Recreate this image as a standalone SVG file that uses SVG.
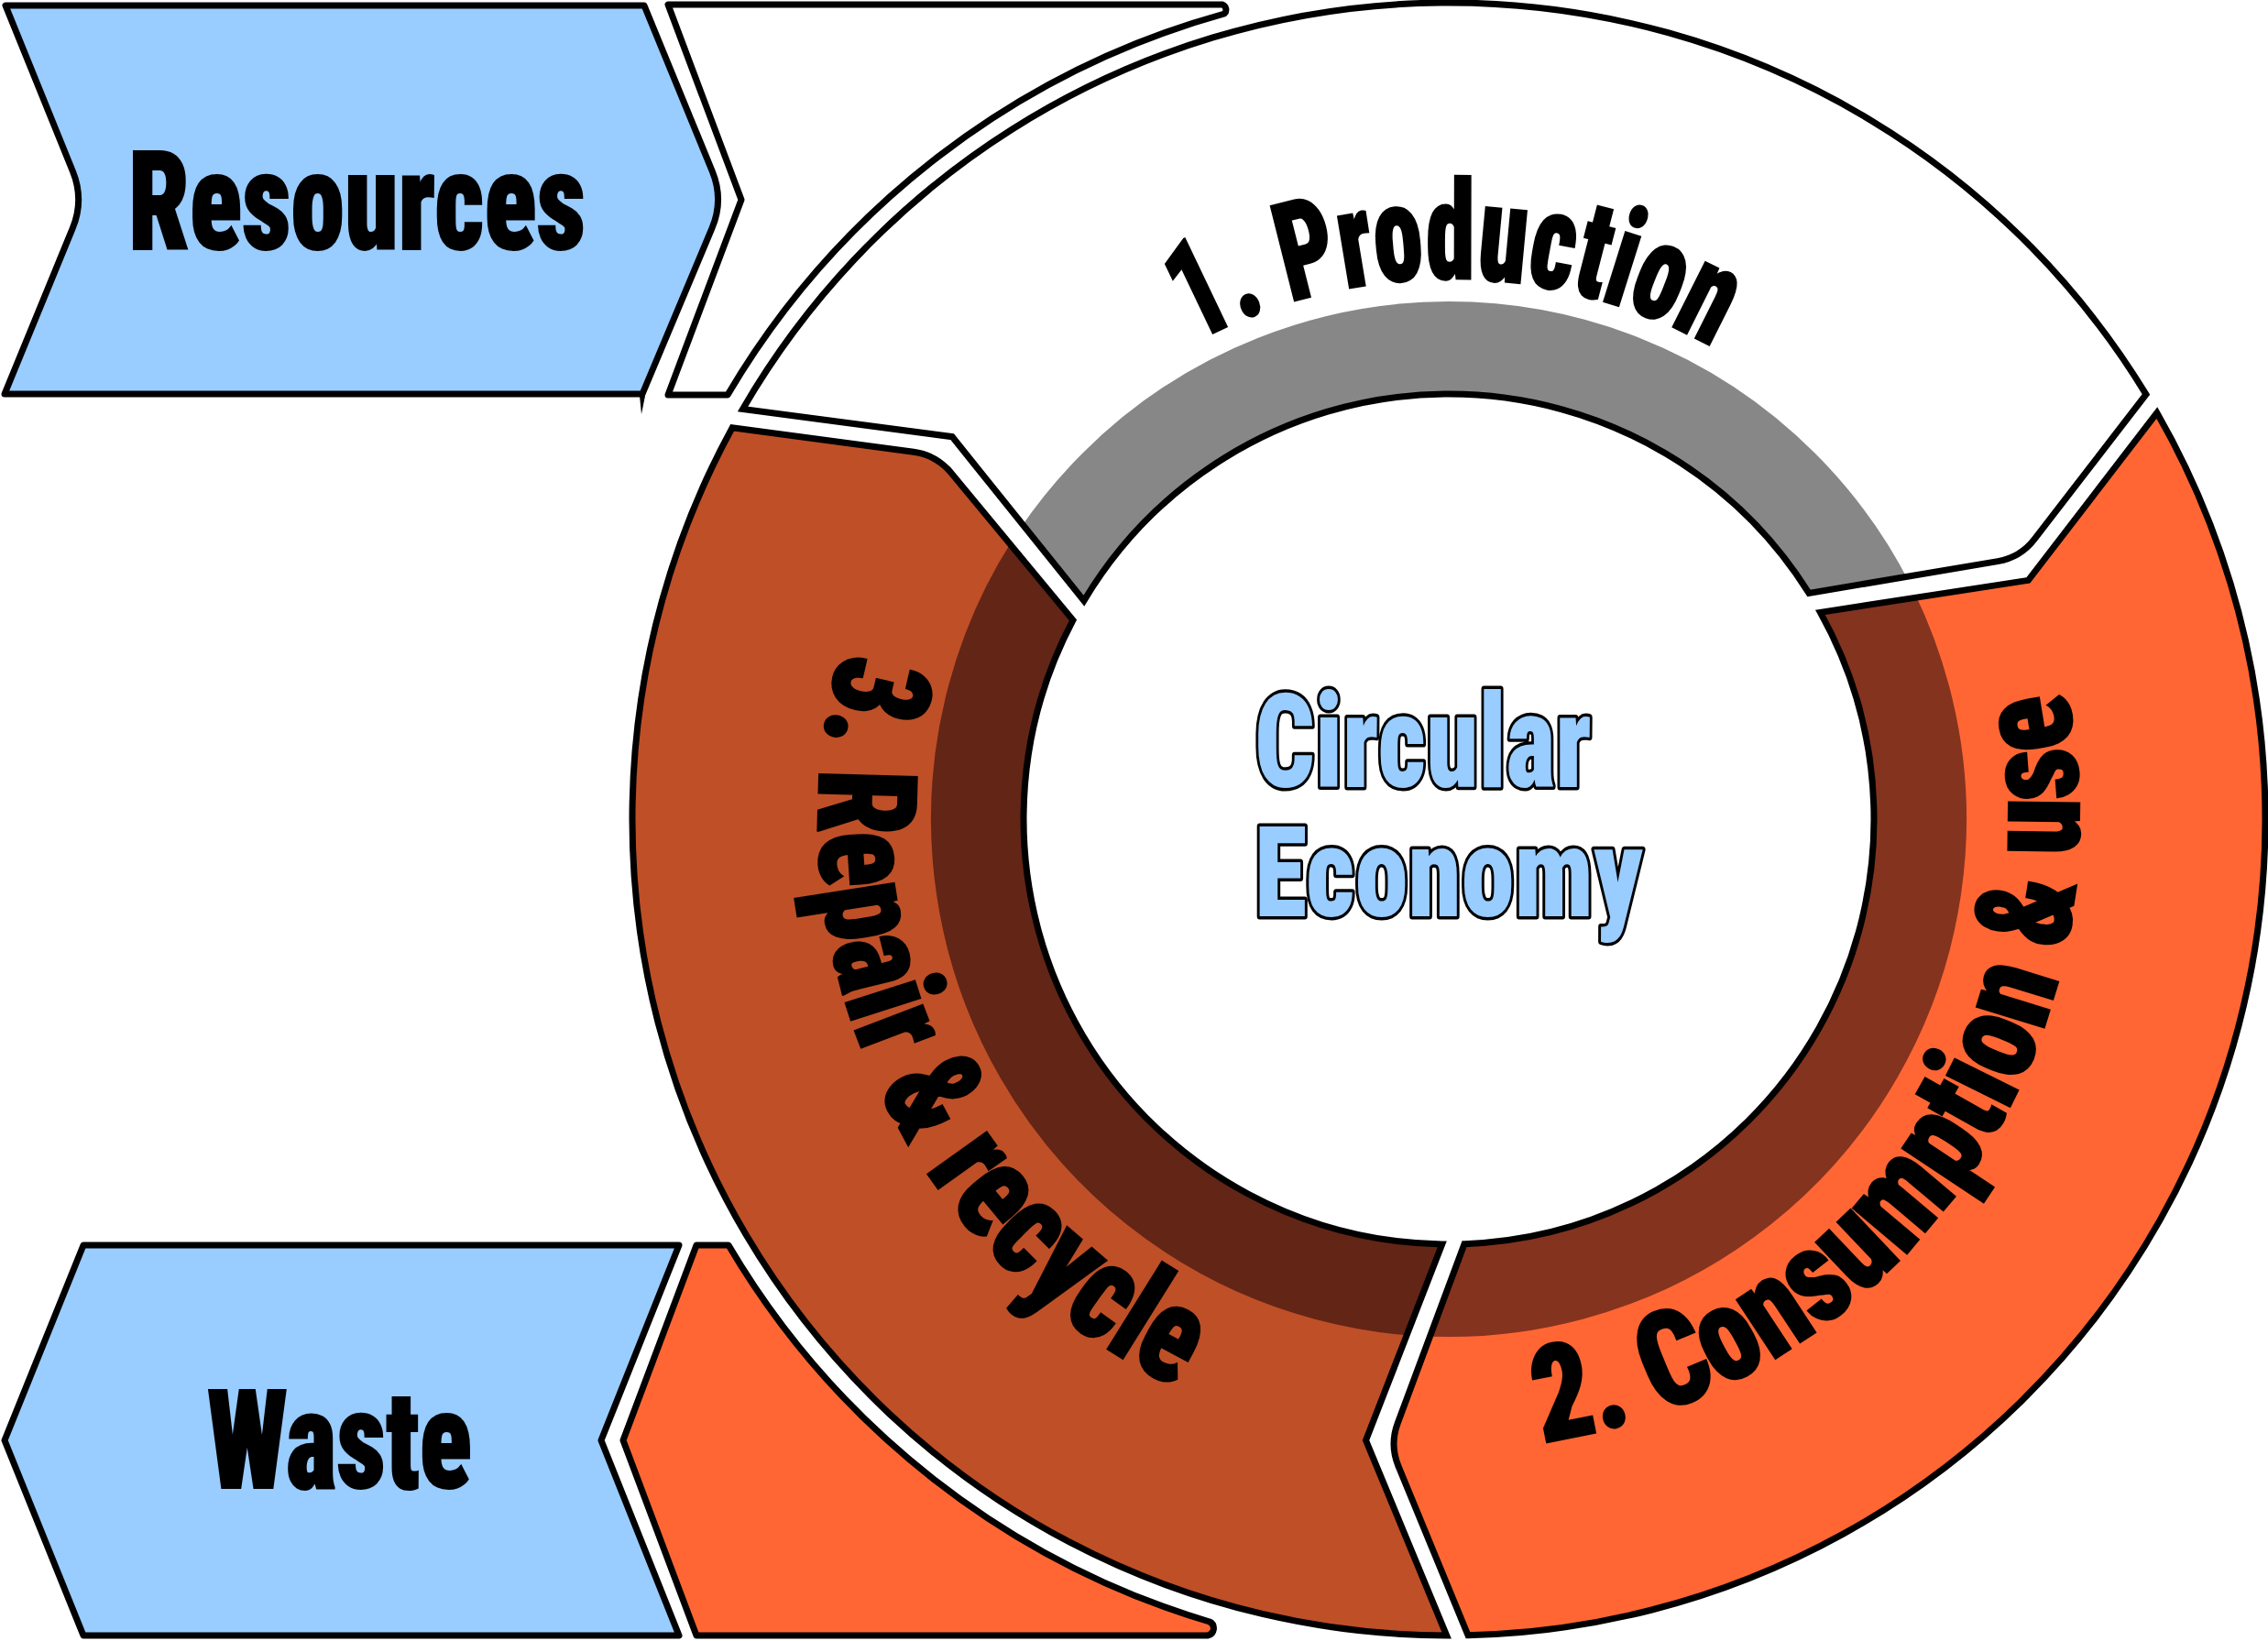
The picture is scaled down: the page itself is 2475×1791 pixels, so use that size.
<svg xmlns="http://www.w3.org/2000/svg" width="2475" height="1791" viewBox="0 0 2475 1791">
<style>
.ol{fill:none;stroke:#000;stroke-width:7;stroke-linejoin:miter;stroke-miterlimit:10}
.box{stroke:#000;stroke-width:7;stroke-linejoin:round}
.lbl{font-family:'Roboto Condensed',Roboto,'Liberation Sans',sans-serif;font-weight:900;fill:#000;stroke:#000;stroke-width:2}
.ce{font-family:'Roboto Condensed',Roboto,'Liberation Sans',sans-serif;font-weight:900;fill:#99CCFF;stroke:#000;stroke-width:7;paint-order:stroke;stroke-linejoin:round}
</style>
<defs>
<path id="seg" d="M -770.46,-447.52 A 891 891 0 0 1 760.92,-463.56 L 639.0,-305.37 Q 623.74,-285.57 599.09,-281.40 L 393.06,-246.57 A 464 464 0 0 0 -398.14,-238.28 L -541.93,-417.34 Z"/>
<clipPath id="segclip"><path d="M -770.46,-447.52 A 891 891 0 0 1 760.92,-463.56 L 639.0,-305.37 Q 623.74,-285.57 599.09,-281.40 L 393.06,-246.57 A 464 464 0 0 0 -398.14,-238.28 L -541.93,-417.34 Z"/></clipPath>
<path id="tp1" d="M1303.6,374.1 A589,589 0 0 1 1868.3,378.8"/>
<path id="tp2" d="M1682.69,1574.44 A688,688 0 0 0 2254.46,753.31"/>
<path id="tp3" d="M918.02,710.14 A688,688 0 0 0 1284.81,1514.98"/>
</defs>

<g id="resources-inflow">
<path class="box" fill="#FFFFFF" d="M729,5 L1334,5 A6,6 0 0 1 1336,15 A913,913 0 0 0 794,431 L729,431 L809,218 Z"/>
</g>
<g id="waste-outflow">
<path class="box" fill="#FF6633" d="M760,1359 L795,1359 A913,913 0 0 0 1320,1770 A8,8 0 0 1 1318,1785 L760,1785 L680,1572 Z"/>
</g>

<g id="resources">
<path class="box" fill="#99CCFF" stroke-linejoin="miter" d="M6,6 L703,6 L777.3,187 Q790,218 777,249 L701,430 L5,430 L79.3,249 Q92,218 79.4,187 Z"/>
<path d="M698,432 L704,432 L700,452 Z" fill="#000"/>
<text class="lbl" x="140" y="272" font-size="150" textLength="499" lengthAdjust="spacingAndGlyphs">Resources</text>
</g>

<g id="waste">
<path class="box" fill="#99CCFF" stroke-linejoin="miter" d="M91,1359 L741,1359 L656,1572 L741,1785 L91,1785 L5,1572 Z"/>
<text class="lbl" x="226" y="1624" font-size="150" textLength="289" lengthAdjust="spacingAndGlyphs">Waste</text>
</g>

<g id="production" transform="translate(1581,894)">
<use href="#seg" fill="#FFFFFF"/>
<circle r="514.5" fill="none" stroke="#878787" stroke-width="101" clip-path="url(#segclip)"/>
<use href="#seg" class="ol"/>
</g>
<g id="consumption" transform="translate(1581,894) rotate(120)">
<use href="#seg" fill="#FF6633"/>
<circle r="514.5" fill="none" stroke="#84331F" stroke-width="101" clip-path="url(#segclip)"/>
<use href="#seg" class="ol"/>
</g>
<g id="repair" transform="translate(1581,894) rotate(240)">
<use href="#seg" fill="#BF4F27"/>
<circle r="514.5" fill="none" stroke="#632516" stroke-width="101" clip-path="url(#segclip)"/>
<use href="#seg" class="ol"/>
</g>

<g id="labels">
<text class="lbl" font-size="150"><textPath href="#tp1" textLength="590" lengthAdjust="spacingAndGlyphs">1. Production</textPath></text>
<text class="lbl" font-size="146"><textPath href="#tp2" textLength="1120" lengthAdjust="spacingAndGlyphs">2. Consumption &amp; use</textPath></text>
<text class="lbl" font-size="150"><textPath href="#tp3" textLength="960" lengthAdjust="spacingAndGlyphs">3. Repair &amp; recycle</textPath></text>
</g>

<g id="center">
<text class="ce" x="1369" y="859" font-size="143" textLength="368" lengthAdjust="spacingAndGlyphs">Circular</text>
<text class="ce" x="1369" y="1000" font-size="138" textLength="424" lengthAdjust="spacingAndGlyphs">Economy</text>
</g>
</svg>
